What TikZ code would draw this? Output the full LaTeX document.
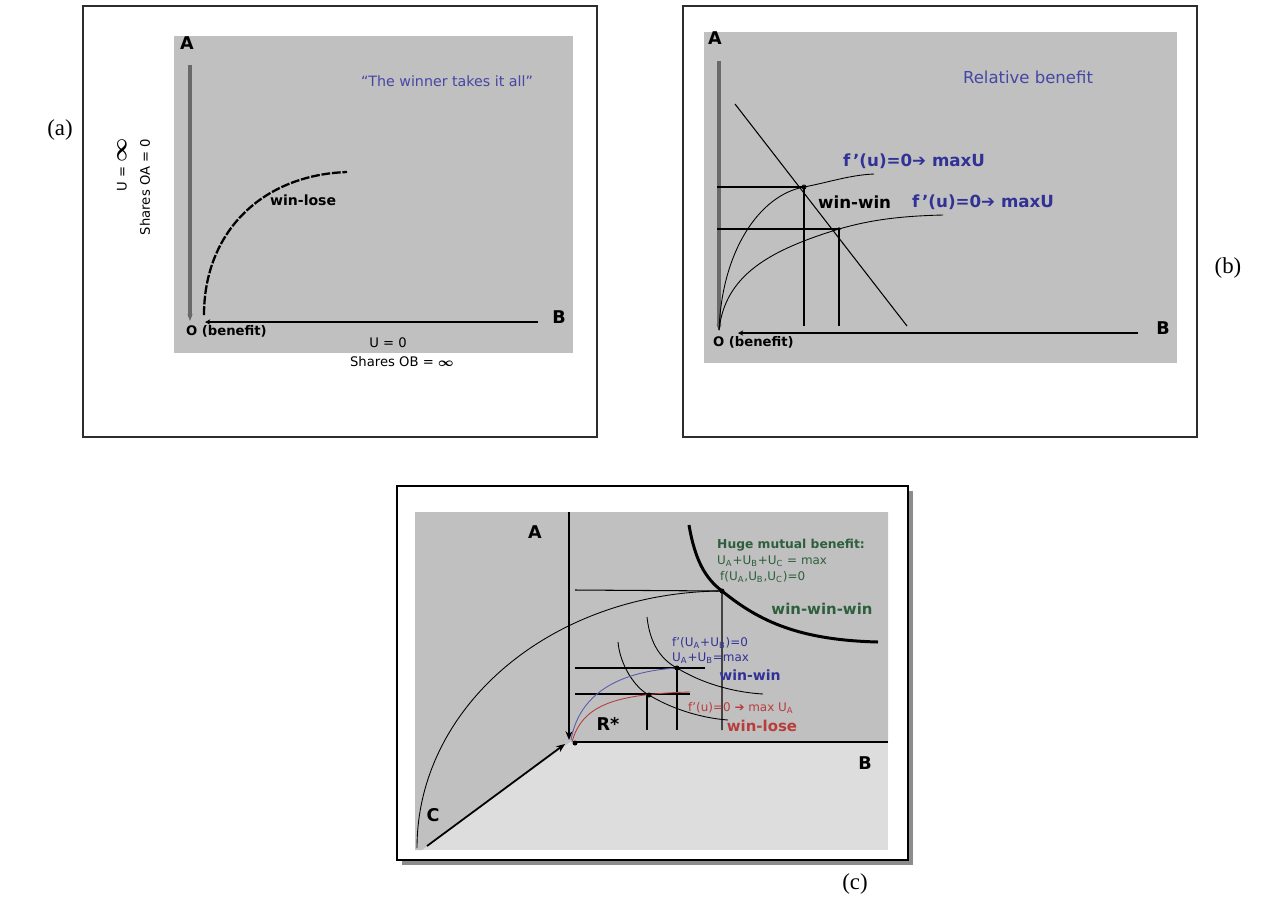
\documentclass[tikz,border=0pt]{standalone}
\usepackage{fontspec}
\setmainfont{Liberation Serif}
\setsansfont{DejaVu Sans}
\usetikzlibrary{arrows.meta}
\definecolor{chartgray}{RGB}{192,192,192}
\definecolor{floorgray}{RGB}{221,221,221}
\definecolor{axisgray}{RGB}{105,105,105}
\definecolor{framegray}{RGB}{45,45,45}
\definecolor{shadowgray}{RGB}{140,140,140}
\definecolor{quoteblue}{RGB}{70,70,165}
\definecolor{labelblue}{RGB}{50,50,150}
\definecolor{benefitgreen}{RGB}{45,95,60}
\definecolor{losered}{RGB}{185,60,60}
\tikzset{
  panel/.style={draw=framegray, line width=0.8pt, fill=white},
  chartbg/.style={fill=chartgray, draw=none},
  grayaxis/.style={draw=axisgray, line width=1.8pt, -{Stealth[length=4pt,width=3pt]}},
  baseaxis/.style={draw=black, line width=0.8pt, {Stealth[length=3pt,width=3pt]}-},
  guide/.style={draw=black, line width=0.6pt},
  thincurve/.style={draw=black, line width=0.5pt},
  axislbl/.style={font=\sffamily\bfseries\fontsize{10}{12}\selectfont, inner sep=1pt},
  originlbl/.style={font=\sffamily\bfseries\fontsize{7.5}{9}\selectfont, inner sep=1pt, anchor=west},
  smalllbl/.style={font=\sffamily\fontsize{7.5}{9}\selectfont, inner sep=1pt},
  tinylbl/.style={font=\sffamily\fontsize{6.8}{8}\selectfont, inner sep=0.5pt, anchor=west},
  panellbl/.style={font=\fontsize{13}{15}\selectfont},
  dot/.style={circle, fill=black, inner sep=0pt, minimum size=3.5pt},
}

\begin{document}
\begin{tikzpicture}[x=0.02cm, y=-0.02cm]
\useasboundingbox (0,0) rectangle (1271,904);

% --- Panel (a): winner takes it all ---
\draw[panel] (83,6) rectangle (597,437);
\fill[chartbg] (174,36) rectangle (573,353);
\node[panellbl] (alabel) at (60,130) {(a)};
\node[axislbl] (aA) at (187,43) {A};
\node[axislbl] (aB) at (559,317) {B};
\coordinate (aTop) at (190,65);
\coordinate (aO) at (190,321);
\draw[grayaxis] (aTop) -- (aO);
\draw[axisgray, line width=0.5pt] (188,240) -- (192,240);
\coordinate (aBstart) at (205,322);
\coordinate (aBend) at (538,322);
\draw[baseaxis] (aBstart) -- (aBend);
\node[originlbl] (aOlbl) at (184,331) {O (benefit)};
\coordinate (aCurveS) at (204,315);
\coordinate (aCurveE) at (347,172);
\draw[black, line width=1.3pt, dash pattern=on 5pt off 1pt]
  (aCurveS) .. controls (204,232) and (262,175) .. (aCurveE);
\node[font=\sffamily\bfseries\fontsize{8}{10}\selectfont, inner sep=1pt, anchor=west] (aWL) at (268,200) {win-lose};
\node[font=\sffamily\fontsize{8.1}{10}\selectfont, text=quoteblue] (aQuote) at (447,81) {“The winner takes it all”};
\node[smalllbl, rotate=90] (aUinf) at (122,165) {U = {\large\boldmath$\infty$}};
\node[smalllbl, rotate=90] (aShares) at (145,187) {Shares OA = 0};
\node[smalllbl] (aU0) at (388,343) {U = 0};
\node[smalllbl] (aSharesOB) at (402,362) {Shares OB = {\boldmath$\infty$}};

% --- Panel (b): relative benefit ---
\draw[panel] (683,6) rectangle (1197,437);
\fill[chartbg] (704,32) rectangle (1177,363);
\node[panellbl] (blabel) at (1228,268) {(b)};
\node[axislbl] (bA) at (715,38) {A};
\node[axislbl] (bB) at (1163,328) {B};
\coordinate (bTop) at (719,61);
\coordinate (bO) at (719,331);
\draw[grayaxis] (bTop) -- (bO);
\draw[axisgray, line width=0.5pt] (717,247) -- (721,247);
\coordinate (bBstart) at (738,333);
\coordinate (bBend) at (1138,333);
\draw[baseaxis] (bBstart) -- (bBend);
\node[originlbl] (bOlbl) at (711,342) {O (benefit)};
\node[font=\sffamily\fontsize{9.4}{11}\selectfont, text=quoteblue] (bRel) at (1028,77) {Relative benefit};
% budget line
\coordinate (bDiagS) at (735,104);
\coordinate (bDiagE) at (907,326);
\draw[thincurve, line width=0.6pt] (bDiagS) -- (bDiagE);
% optimum points
\coordinate (bP1) at (804,187);
\coordinate (bP2) at (839,229);
\draw[thincurve] (719,330) .. controls (722,250) and (760,195) .. (bP1)
  .. controls (830,182) and (850,175) .. (874,174);
\draw[thincurve] (719,330) .. controls (725,275) and (770,250) .. (bP2)
  .. controls (870,220) and (900,216) .. (943,215);
\coordinate (bH1) at (717,187);
\coordinate (bH2) at (717,229);
\coordinate (bV1) at (804,326);
\coordinate (bV2) at (839,326);
\draw[guide] (bH1) -- (bP1) -- (bV1);
\draw[guide] (bH2) -- (bP2) -- (bV2);
\draw[black, line width=0.5pt] (bP1) circle (2);
\fill[black] (bP2) circle (1.8);
\node[font=\sffamily\bfseries\fontsize{9.5}{11}\selectfont, text=labelblue, inner sep=1pt, anchor=west] (bMax1) at (841,161) {f\,'(u)=0➔ maxU};
\node[font=\sffamily\bfseries\fontsize{9.5}{11}\selectfont, inner sep=1pt, anchor=west] (bWW) at (816,202) {win-win};
\node[font=\sffamily\bfseries\fontsize{9.5}{11}\selectfont, text=labelblue, inner sep=1pt, anchor=west] (bMax2) at (910,202) {f\,'(u)=0➔ maxU};

% --- Panel (c): mutual benefit ---
\fill[shadowgray] (402,491) rectangle (913,865);
\draw[panel, draw=black, line width=1.3pt] (397,486) rectangle (908,860);
\node[panellbl] (clabel) at (855,884) {(c)};
\fill[floorgray] (415,512) rectangle (888,850);
\fill[chartgray] (415,512) -- (888,512) -- (888,742) -- (570,742) -- (422,850) -- (415,850) -- cycle;
\coordinate (cO) at (570,742);
\coordinate (cTop) at (569,512);
\coordinate (cBend) at (888,742);
\coordinate (cCend) at (427,846);
\draw[black, line width=1.2pt, -{Stealth[length=5pt,width=4pt]}] (cTop) -- (569,740);
\draw[black, line width=1.2pt] (576,742) -- (cBend);
\draw[black, line width=1pt, -{Stealth[length=5pt,width=4pt]}] (cCend) -- (565,744);
\fill[black] (575,743) circle (2.5);
\node[axislbl] (cA) at (535,532) {A};
\node[axislbl] (cB) at (865,763) {B};
\node[axislbl] (cC) at (433,815) {C};
\node[axislbl] (cR) at (608,724) {R*};
% three-party frontier
\coordinate (cP3) at (722,591);
\draw[thincurve] (417,848) .. controls (417,706) and (552,592) .. (cP3);
\draw[black, line width=1.7pt] (689,525) .. controls (695,560) and (705,578) .. (cP3)
  .. controls (760,622) and (800,640) .. (878,642);
\draw[guide] (575,590) -- (cP3) -- (722,730);
% two-party curves
\coordinate (cP2) at (677,668);
\coordinate (cP1) at (649,695);
\draw[thincurve] (647,617) .. controls (650,645) and (662,660) .. (cP2)
  .. controls (700,682) and (730,692) .. (763,694);
\draw[thincurve] (618,642) .. controls (620,665) and (635,688) .. (cP1)
  .. controls (670,708) and (700,718) .. (728,720);
\draw[guide] (575,668) -- (705,668);
\draw[guide] (575,694) -- (690,694);
\draw[guide] (cP2) -- (677,730);
\draw[guide] (647,694) -- (647,730);
\draw[labelblue!80, line width=0.5pt] (571,740) .. controls (578,700) and (610,672) .. (cP2);
\draw[losered, line width=0.5pt] (572,742) .. controls (582,705) and (615,694) .. (690,692);
\fill[black] (cP3) circle (2.5);
\fill[black] (cP2) circle (2.5);
\fill[black] (cP1) circle (2.5);
\node[font=\sffamily\bfseries\fontsize{7}{8}\selectfont, text=benefitgreen, inner sep=0.5pt, anchor=west] (cHuge) at (716,545) {Huge mutual benefit:};
\node[tinylbl, text=benefitgreen] (cSum3) at (716,561) {U\textsubscript{A}+U\textsubscript{B}+U\textsubscript{C} = max};
\node[tinylbl, text=benefitgreen] (cF3) at (719,577) {f(U\textsubscript{A},U\textsubscript{B},U\textsubscript{C})=0};
\node[font=\sffamily\bfseries\fontsize{8.5}{10}\selectfont, text=benefitgreen] (cWWW) at (822,609) {win-win-win};
\node[tinylbl, text=labelblue] (cF2) at (671,643) {f'(U\textsubscript{A}+U\textsubscript{B})=0};
\node[tinylbl, text=labelblue] (cSum2) at (671,658) {U\textsubscript{A}+U\textsubscript{B}=max};
\node[font=\sffamily\bfseries\fontsize{8}{10}\selectfont, text=labelblue] (cWW) at (750,675) {win-win};
\node[tinylbl, text=losered] (cF1) at (687,708) {f'(u)=0 ➔ max U\textsubscript{A}};
\node[font=\sffamily\bfseries\fontsize{8.5}{10}\selectfont, text=losered] (cWL) at (762,726) {win-lose};

\end{tikzpicture}
\end{document}
